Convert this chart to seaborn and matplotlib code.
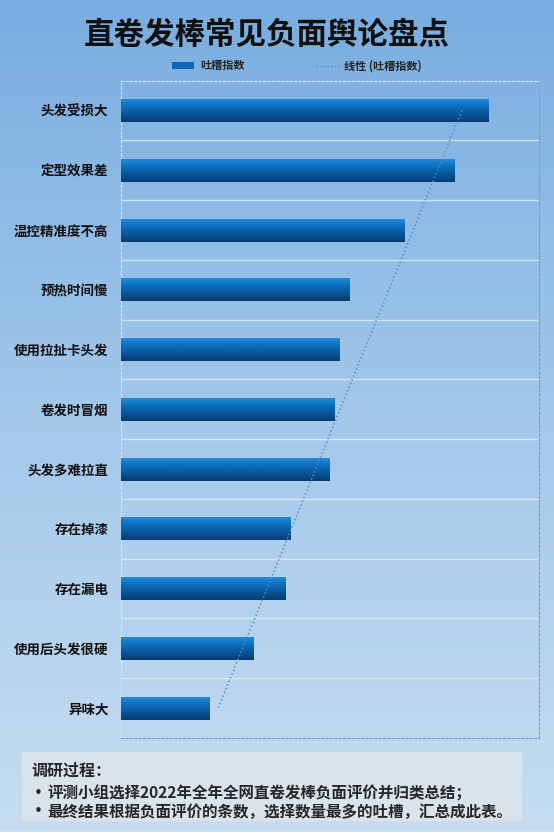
import numpy as np
import pandas as pd
import matplotlib
matplotlib.use("Agg")
import matplotlib.pyplot as plt
import seaborn as sns
from matplotlib.colors import LinearSegmentedColormap
from matplotlib.patches import Patch, Rectangle
from matplotlib.lines import Line2D

# data (bar lengths, no axis ticks shown)
categories = ["头发受损大", "定型效果差", "温控精准度不高", "预热时间慢", "使用拉扯卡头发",
              "卷发时冒烟", "头发多难拉直", "存在掉漆", "存在漏电", "使用后头发很硬", "异味大"]
values = [88.0, 79.8, 67.8, 54.8, 52.4, 51.2, 49.8, 40.5, 39.4, 31.8, 21.3]

title = "直卷发棒常见负面舆论盘点"
legend_labels = ["吐槽指数", "线性 (吐槽指数)"]
note_title = "调研过程："
note_lines = ["评测小组选择2022年全年全网直卷发棒负面评价并归类总结；",
              "最终结果根据负面评价的条数，选择数量最多的吐槽，汇总成此表。"]

df = pd.DataFrame({"category": categories, "value": values})

sns.set_style("white")
plt.rcParams["font.family"] = ["Noto Sans CJK SC", "DejaVu Sans"]

W, H = 554, 839
fig = plt.figure(figsize=(W / 100, H / 100), dpi=100)

# background gradient
bg = fig.add_axes([0, 0, 1, 1], zorder=-10)
bg_cmap = LinearSegmentedColormap.from_list("bg", ["#79ade0", "#a3c8ea", "#c6ddf1"])
grad = np.linspace(0, 1, 256).reshape(-1, 1)
bg.imshow(grad, cmap=bg_cmap, aspect="auto", extent=(0, W, 832, 0))
bg.add_patch(Rectangle((0, 832), W, 7, color="white"))
bg.set_xlim(0, W)
bg.set_ylim(H, 0)
bg.axis("off")

# note box
bg.add_patch(Rectangle((22, 752), 499, 68, color="#d8e3ec", zorder=2))
bg.text(31, 771, note_title, fontsize=11.5, fontweight="bold", va="center", zorder=3)
for i, line in enumerate(note_lines):
    y = 793 + i * 19
    bg.text(34, y, "•", fontsize=11, va="center", zorder=3, family="DejaVu Sans")
    bg.text(47, y, line, fontsize=11.2, fontweight="bold", va="center", zorder=3)

# main chart
left, right, top, bottom = 121, 538.7, 80.7, 738
ax = fig.add_axes([left / W, 1 - bottom / H, (right - left) / W, (bottom - top) / H])
ax.set_facecolor("none")
sns.barplot(data=df, y="category", x="value", orient="h", ax=ax, width=0.385,
            color="#0b66b5", edgecolor="none")

bar_cmap = LinearSegmentedColormap.from_list(
    "bar", ["#2a8fdc", "#1077c8", "#0a63ae", "#0a4f90", "#083c6e"])
for p in ax.patches:
    x0, y0, w, h = p.get_x(), p.get_y(), p.get_width(), p.get_height()
    im = ax.imshow(grad, cmap=bar_cmap, aspect="auto",
                   extent=(x0, x0 + w, y0 + h, y0), zorder=3)
    im.set_clip_path(p)

# linear trendline
idx = np.arange(len(values))
k, b = np.polyfit(idx, values, 1)
ax.plot(k * idx + b, idx, linestyle=(0, (1, 1.6)), color="#4f8fd0", lw=1.1, zorder=4)

ax.set_xlim(0, 100)
ax.set_ylim(len(values) - 0.5, -0.5)

for yy in np.arange(0.5, len(values) - 0.5, 1):
    ax.axhline(yy, color="#e2eef8", lw=1, alpha=0.8, zorder=1)

for side, col in [("top", "#d6e6f4"), ("left", "#d6e6f4"), ("right", "#6f9fd0"), ("bottom", "#6f9fd0")]:
    ax.spines[side].set_visible(True)
    ax.spines[side].set_linestyle((0, (2, 2)))
    ax.spines[side].set_linewidth(0.8)
    ax.spines[side].set_color(col)

ax.set_xlabel("")
ax.set_ylabel("")
ax.set_xticks([])
ax.tick_params(axis="y", length=0, pad=9)
for lab in ax.get_yticklabels():
    lab.set_fontsize(9.7)
    lab.set_fontweight("bold")
    lab.set_color("#111111")

# title
fig.text(267 / W, 1 - 35 / H, title, fontsize=22, fontweight="bold",
         ha="center", va="center", color="#111111")

# legend
handles = [Patch(facecolor="#0b66b5", edgecolor="none"),
           Line2D([], [], linestyle=(0, (1, 1.6)), color="#4f8fd0", lw=1)]
fig.legend(handles, legend_labels, loc="center", bbox_to_anchor=(297 / W, 1 - 66 / H),
           ncol=2, frameon=False, handlelength=2.0, handleheight=0.6,
           columnspacing=6.5, handletextpad=0.5, prop={"weight": "bold", "size": 8})

fig.savefig("out.png", dpi=100)
